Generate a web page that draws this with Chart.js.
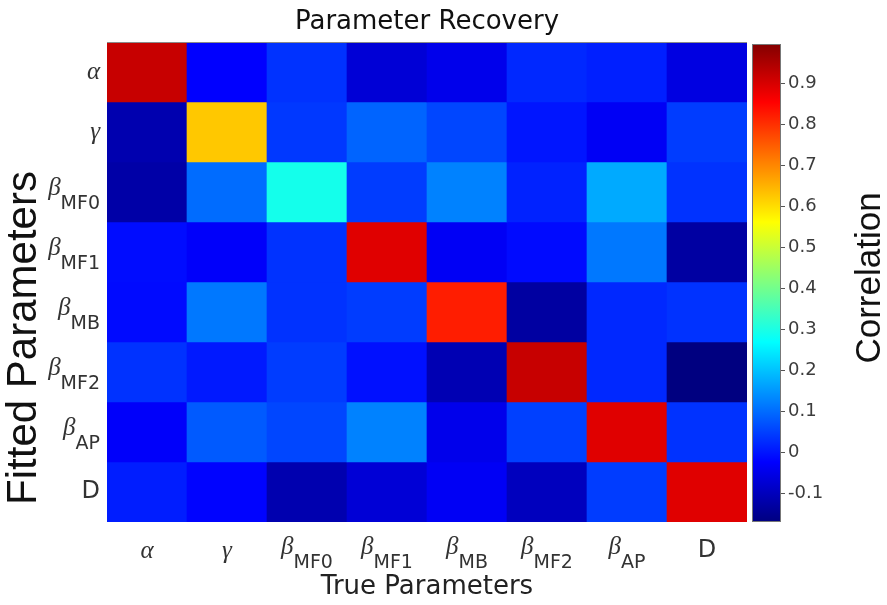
<!DOCTYPE html>
<html>
<head>
<meta charset="utf-8">
<title>Parameter Recovery</title>
<script src="https://cdn.jsdelivr.net/npm/chart.js@4.4.1/dist/chart.umd.min.js"></script>
<style>
    html, body { margin: 0; padding: 0; background: #fff; }
    canvas { display: block; }
</style>
</head>
<body>
<canvas id="heatmap" width="887" height="605"></canvas>
<script>
// parameter names: symbol + subscript
const paramSymbols = ['α', 'γ', 'β', 'β', 'β', 'β', 'β', 'D'];
const paramSubs = ['', '', 'MF0', 'MF1', 'MB', 'MF2', 'AP', ''];

// correlation of fitted (rows) vs true (columns) parameters
const rowAlpha = [0.918, -0.024, 0.034, -0.071, -0.047, 0.022, 0.012, -0.058];
const rowGamma = [-0.116, 0.624, 0.040, 0.091, 0.057, 0.000, -0.035, 0.045];
const rowMF0 = [-0.125, 0.100, 0.292, 0.045, 0.125, 0.015, 0.171, 0.034];
const rowMF1 = [-0.010, -0.030, 0.034, 0.889, -0.035, -0.012, 0.114, -0.130];
const rowMB = [-0.012, 0.114, 0.034, 0.045, 0.820, -0.132, 0.022, 0.034];
const rowMF2 = [0.034, 0.005, 0.045, -0.005, -0.111, 0.918, 0.022, -0.170];
const rowAP = [-0.030, 0.080, 0.057, 0.125, -0.047, 0.050, 0.889, 0.034];
const rowD = [0.010, -0.020, -0.116, -0.071, -0.035, -0.098, 0.045, 0.889];
const corrRows = [rowAlpha, rowGamma, rowMF0, rowMF1, rowMB, rowMF2, rowAP, rowD];

const colorbarTicks = [-0.1, 0, 0.1, 0.2, 0.3, 0.4, 0.5, 0.6, 0.7, 0.8, 0.9];
const cMin = -0.17;
const cMax = 1.0;

function clamp01(v) {
    return Math.min(1, Math.max(0, v));
}

function jet(v) {
    const t = clamp01((v - cMin) / (cMax - cMin));
    const r = clamp01(1.5 - Math.abs(4 * t - 3));
    const g = clamp01(1.5 - Math.abs(4 * t - 2));
    const b = clamp01(1.5 - Math.abs(4 * t - 1));
    return `rgb(${Math.round(r * 255)}, ${Math.round(g * 255)}, ${Math.round(b * 255)})`;
}

const subFont = '19px "DejaVu Sans"';

function drawParam(ctx, i, x, y, align) {
    const sym = paramSymbols[i];
    const sub = paramSubs[i];
    const symFont = sym === 'D' ? '24px "DejaVu Sans"' : 'italic 25px "Liberation Serif"';
    ctx.font = symFont;
    const w1 = ctx.measureText(sym).width;
    ctx.font = subFont;
    const w2 = sub ? ctx.measureText(sub).width : 0;
    const x0 = align === 'right' ? x - w1 - w2 : x - (w1 + w2) / 2;
    ctx.textAlign = 'left';
    ctx.textBaseline = 'middle';
    ctx.fillStyle = '#333';
    ctx.font = symFont;
    ctx.fillText(sym, x0, sub ? y - 4 : y);
    if (sub) {
        ctx.font = subFont;
        ctx.fillText(sub, x0 + w1, y + 12);
    }
}

const decorations = {
    id: 'decorations',
    afterDraw(chart) {
        const ctx = chart.ctx;
        const area = chart.chartArea;
        const xs = chart.scales.x;
        const ys = chart.scales.y;
        const cb = chart.scales.cb;
        ctx.save();

        // top frame line
        ctx.strokeStyle = '#8a8a8a';
        ctx.lineWidth = 1;
        ctx.beginPath();
        ctx.moveTo(area.left, area.top + 0.5);
        ctx.lineTo(area.right, area.top + 0.5);
        ctx.stroke();

        // tick labels with subscripts
        for (let i = 0; i < paramSymbols.length; i++) {
            drawParam(ctx, i, 100, ys.getPixelForValue(i + 0.5), 'right');
            drawParam(ctx, i, xs.getPixelForValue(i), 551, 'center');
        }

        // colorbar
        const cbLeft = area.right + 5;
        const cbWidth = 29;
        const yTop = cb.getPixelForValue(cMax);
        const yBot = cb.getPixelForValue(cMin);
        const grad = ctx.createLinearGradient(0, yBot, 0, yTop);
        for (let k = 0; k <= 64; k++) {
            grad.addColorStop(k / 64, jet(cMin + (cMax - cMin) * k / 64));
        }
        ctx.fillStyle = grad;
        ctx.fillRect(cbLeft, yTop + 2, cbWidth, yBot - yTop - 2);
        ctx.strokeStyle = '#777';
        ctx.strokeRect(cbLeft + 0.5, yTop + 2.5, cbWidth - 1, yBot - yTop - 3);
        ctx.strokeStyle = '#555';
        colorbarTicks.forEach(v => {
            const py = Math.round(cb.getPixelForValue(v)) + 0.5;
            ctx.beginPath();
            ctx.moveTo(cbLeft + cbWidth, py);
            ctx.lineTo(cbLeft + cbWidth + 4, py);
            ctx.stroke();
        });

        // titles
        ctx.fillStyle = '#111';
        ctx.textAlign = 'center';
        ctx.textBaseline = 'alphabetic';
        ctx.font = '26px "DejaVu Sans"';
        ctx.fillText('Parameter Recovery', (area.left + area.right) / 2, 29);
        ctx.font = '26px "DejaVu Sans"';
        ctx.fillStyle = '#222';
        ctx.fillText('True Parameters', (area.left + area.right) / 2, 594);

        ctx.textBaseline = 'middle';
        ctx.fillStyle = '#111';
        ctx.save();
        ctx.translate(24, 338);
        ctx.rotate(-Math.PI / 2);
        ctx.font = '42px "Liberation Sans"';
        ctx.fillText('Fitted Parameters', 0, 0);
        ctx.restore();

        ctx.save();
        ctx.translate(870, 278);
        ctx.rotate(-Math.PI / 2);
        ctx.font = '35px "Liberation Sans"';
        ctx.fillText('Correlation', 0, 0);
        ctx.restore();

        ctx.restore();
    }
};

const datasets = corrRows.map((row, r) => ({
    label: paramSymbols[r] + paramSubs[r],
    data: row.map(() => 1),
    backgroundColor: row.map(v => jet(v)),
    borderWidth: 0,
    barPercentage: 1,
    categoryPercentage: 1
}));

new Chart(document.getElementById('heatmap'), {
    type: 'bar',
    data: {
        labels: paramSymbols.map((s, i) => s + paramSubs[i]),
        datasets: datasets
    },
    options: {
        responsive: false,
        animation: false,
        layout: {padding: {top: 42, left: 0, right: 0, bottom: 0}},
        plugins: {
            legend: {display: false},
            tooltip: {enabled: false},
            title: {display: false}
        },
        scales: {
            x: {
                stacked: true,
                grid: {display: false, drawTicks: false},
                border: {display: false},
                ticks: {display: false},
                afterFit: scale => { scale.height = 83; }
            },
            y: {
                stacked: true,
                reverse: true,
                min: 0,
                max: 8,
                grid: {display: false, drawTicks: false},
                border: {display: false},
                ticks: {display: false},
                afterFit: scale => { scale.width = 107; }
            },
            cb: {
                type: 'linear',
                position: 'right',
                min: cMin,
                max: cMax,
                grid: {display: false, drawTicks: false},
                border: {display: false},
                afterBuildTicks: scale => {
                    scale.ticks = colorbarTicks.map(v => ({value: v}));
                },
                ticks: {
                    padding: 41,
                    color: '#3c3c3c',
                    font: {family: 'DejaVu Sans', size: 18},
                    callback: v => v === 0 ? '0' : v.toFixed(1)
                },
                afterFit: scale => {
                    scale.width = 140;
                    scale.paddingTop = 0;
                    scale.paddingBottom = 0;
                }
            }
        }
    },
    plugins: [decorations]
});
</script>
</body>
</html>
